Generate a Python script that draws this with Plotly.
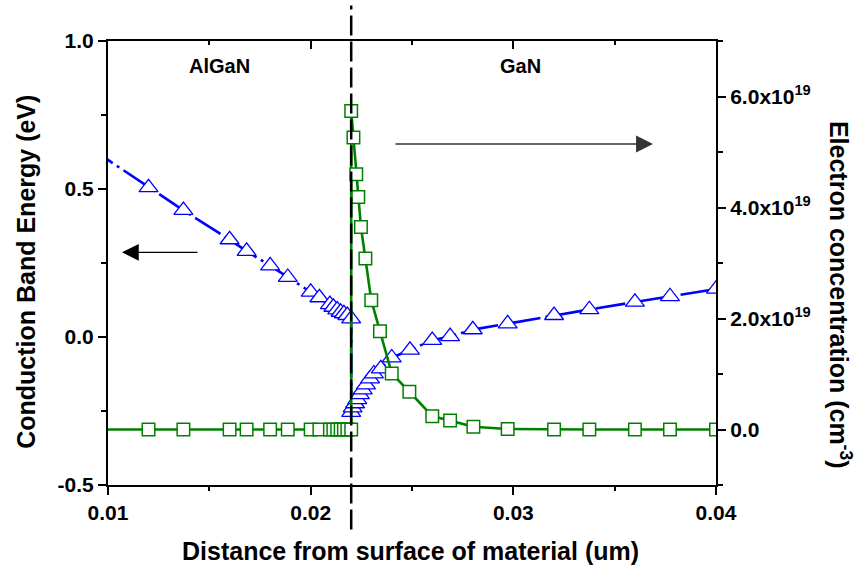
import plotly.graph_objects as go

# ---- data ----
# Conduction band energy (eV), AlGaN side
x_cb_algan = [0.009, 0.012, 0.01372, 0.016, 0.01684, 0.018, 0.01887, 0.020, 0.02043,
              0.02095, 0.02112, 0.02131, 0.02148, 0.02164, 0.02181, 0.022]
e_cb_algan = [0.644, 0.505, 0.428, 0.329, 0.290, 0.241, 0.202, 0.152, 0.133,
              0.110, 0.101, 0.092, 0.084, 0.079, 0.073, 0.062]
# Conduction band energy (eV), GaN side
x_cb_gan = [0.022, 0.02207, 0.02219, 0.0223, 0.02243, 0.02257, 0.02273, 0.02293, 0.02312,
            0.02346, 0.024, 0.0249, 0.026, 0.02688, 0.028, 0.02972, 0.03201, 0.03375,
            0.036, 0.03773, 0.040]
e_cb_gan = [-0.254, -0.239, -0.225, -0.211, -0.194, -0.178, -0.161, -0.141, -0.124,
            -0.107, -0.070, -0.044, -0.011, 0.002, 0.025, 0.045, 0.073, 0.093,
            0.118, 0.137, 0.162]

# Electron concentration (cm^-3), AlGaN side
x_n_algan = [0.009, 0.012, 0.01372, 0.016, 0.01684, 0.018, 0.01887, 0.020, 0.02043,
             0.02095, 0.02112, 0.02131, 0.02148, 0.02164, 0.02181, 0.022]
n_algan = [0.0] * 16
# Electron concentration (cm^-3), GaN side
x_n_gan = [0.022, 0.02211, 0.02225, 0.02235, 0.02248, 0.0227, 0.02299, 0.02342, 0.024,
           0.02487, 0.026, 0.02688, 0.02803, 0.02972, 0.03201, 0.03375, 0.036, 0.03773, 0.040]
n_gan = [5.74e19, 5.26e19, 4.60e19, 4.19e19, 3.65e19, 3.08e19, 2.33e19, 1.77e19, 1.01e19,
         0.68e19, 0.24e19, 0.16e19, 0.05e19, 0.01e19, 0.0, 0.0, 0.0, 0.0, 0.0]

x_ticks = [0.01, 0.02, 0.03, 0.04]
x_minor = [0.015, 0.025, 0.035]
y_ticks = [-0.5, 0.0, 0.5, 1.0]
y_minor = [-0.25, 0.25, 0.75]
y2_ticks = [0.0, 2e19, 4e19, 6e19]
y2_ticktext = ["0.0", "2.0x10<sup>19</sup>", "4.0x10<sup>19</sup>", "6.0x10<sup>19</sup>"]
y2_minor = [-1e19, 1e19, 3e19, 5e19, 7e19]
interface_x = 0.022

BLUE = "#0000FF"
GREEN = "#008000"
FONT = "Liberation Sans, Arial, sans-serif"

fig = go.Figure()

fig.add_trace(go.Scatter(
    x=x_cb_algan + x_cb_gan, y=e_cb_algan + e_cb_gan,
    mode="lines+markers", yaxis="y", xaxis="x",
    line=dict(color=BLUE, width=2.6, dash="30px,5px,3px,5px"),
    marker=dict(symbol="triangle-up", size=16.5, color="white",
                line=dict(color=BLUE, width=1.3)),
    showlegend=False, hoverinfo="skip"))

fig.add_trace(go.Scatter(
    x=x_n_algan + x_n_gan, y=n_algan + n_gan,
    mode="lines+markers", yaxis="y2", xaxis="x",
    line=dict(color=GREEN, width=2.6),
    marker=dict(symbol="square", size=12.5, color="white",
                line=dict(color=GREEN, width=1.5)),
    showlegend=False, hoverinfo="skip"))

# empty trace so the top mirror axis is drawn
fig.add_trace(go.Scatter(x=[], y=[], xaxis="x2", yaxis="y", showlegend=False))

tickfont = dict(family=FONT, size=21, color="black", weight="bold")
axcommon = dict(showgrid=False, zeroline=False, showline=True, linecolor="black",
                linewidth=2, tickcolor="black", tickwidth=2, ticklen=8,
                tickfont=tickfont)

fig.update_layout(
    width=861, height=572,
    margin=dict(l=108, r=145, t=41, b=87),
    paper_bgcolor="white", plot_bgcolor="white",
    xaxis=dict(range=[0.01, 0.04], tickmode="array", tickvals=x_ticks,
               ticktext=[f"{v:.2f}" for v in x_ticks], ticks="outside",
               minor=dict(tickmode="array", tickvals=x_minor, ticks="outside",
                          ticklen=4, tickwidth=2, tickcolor="black"),
               **axcommon),
    xaxis2=dict(range=[0.01, 0.04], overlaying="x", side="top", anchor="y",
                tickmode="array", tickvals=x_ticks, ticks="inside",
                showticklabels=False,
                minor=dict(tickmode="array", tickvals=x_minor, ticks="inside",
                           ticklen=4, tickwidth=2, tickcolor="black"),
                **axcommon),
    yaxis=dict(range=[-0.5, 1.0], tickmode="array", tickvals=y_ticks,
               ticktext=[f"{v:.1f}" for v in y_ticks], ticks="outside",
               minor=dict(tickmode="array", tickvals=y_minor, ticks="outside",
                          ticklen=5, tickwidth=2, tickcolor="black"),
               **axcommon),
    yaxis2=dict(range=[-1e19, 7e19], overlaying="y", side="right", anchor="x",
                tickmode="array", tickvals=y2_ticks, ticktext=y2_ticktext,
                ticks="outside",
                minor=dict(tickmode="array", tickvals=y2_minor, ticks="outside",
                           ticklen=5, tickwidth=2, tickcolor="black"),
                **axcommon),
)

# interface dashed line
fig.add_shape(type="line", xref="x", yref="paper", x0=interface_x, x1=interface_x,
              y0=-0.10, y1=1.08, line=dict(color="black", width=2.5, dash="20px,6px"))

labfont = dict(family=FONT, size=20, color="black", weight="bold")
fig.add_annotation(x=0.0155, y=0.915, xref="x", yref="y", text="AlGaN",
                   showarrow=False, font=labfont)
fig.add_annotation(x=0.03033, y=0.915, xref="x", yref="y", text="GaN",
                   showarrow=False, font=labfont)

# arrows
fig.add_annotation(x=0.01069, y=0.286, xref="x", yref="y", ax=0.01449, ay=0.286,
                   axref="x", ayref="y", text="", showarrow=True, arrowhead=2,
                   arrowsize=2.8, arrowwidth=1.2, arrowcolor="black")
fig.add_annotation(x=0.03689, y=0.652, xref="x", yref="y", ax=0.02411, ay=0.652,
                   axref="x", ayref="y", text="", showarrow=True, arrowhead=2,
                   arrowsize=2.6, arrowwidth=1.3, arrowcolor="#333333")

titlefont = dict(family=FONT, size=25, color="black", weight="bold")
fig.add_annotation(x=0.497, y=-0.149, xref="paper", yref="paper",
                   text="Distance from surface of material (um)", showarrow=False,
                   font=titlefont, xanchor="center", yanchor="middle")
fig.add_annotation(x=-0.135, y=0.48, xref="paper", yref="paper",
                   text="Conduction Band Energy (eV)", showarrow=False,
                   font=titlefont, textangle=-90, xanchor="center", yanchor="middle")
fig.add_annotation(x=1.204, y=0.428, xref="paper", yref="paper",
                   text="Electron concentration (cm<sup>-3</sup>)", showarrow=False,
                   font=titlefont, textangle=90, xanchor="center", yanchor="middle")

fig.write_html("out.html")
